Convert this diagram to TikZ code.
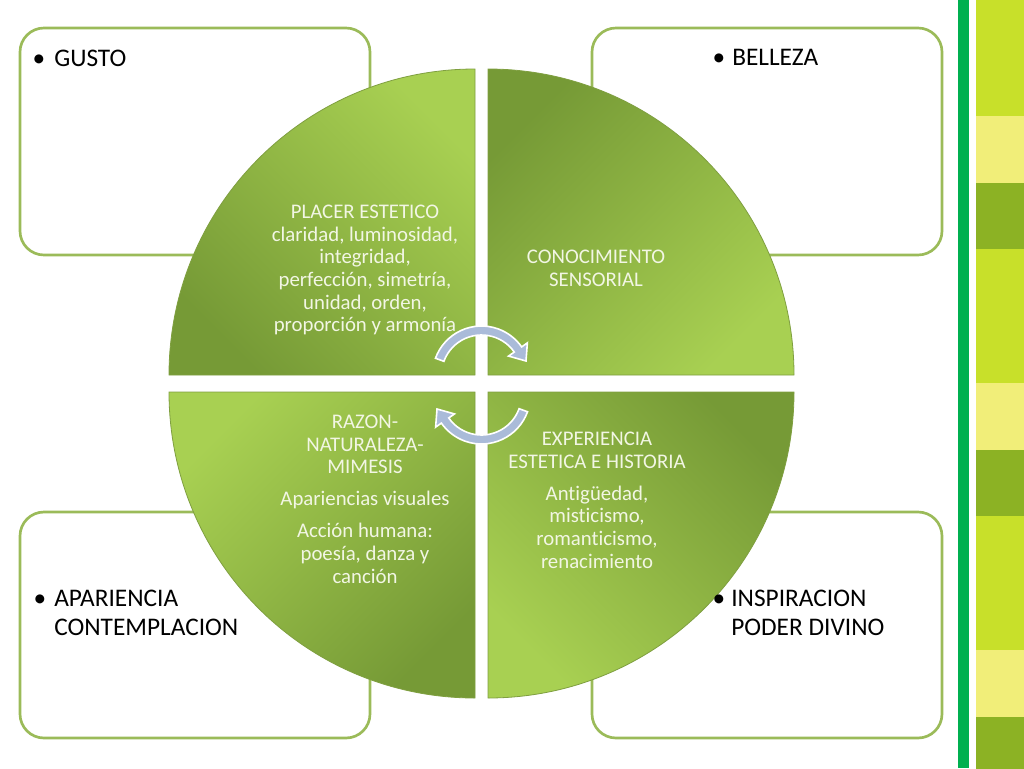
\documentclass[tikz,border=0pt]{standalone}
\usepackage{fontspec}
\setmainfont{Carlito}[Ligatures=NoCommon]
\definecolor{boxline}{HTML}{9BBB59}
\definecolor{qlight}{HTML}{A8D052}
\definecolor{qdark}{HTML}{769A36}
\definecolor{qedge}{HTML}{7F9F40}
\definecolor{qtxt}{HTML}{F2F6E4}
\definecolor{cycblue}{HTML}{AABBD9}
\definecolor{barg}{HTML}{00B050}
\definecolor{stripyg}{HTML}{C8E02A}
\definecolor{strippale}{HTML}{F1EE79}
\definecolor{stripolive}{HTML}{8CB224}

\begin{document}
\begin{tikzpicture}[x=0.75pt,y=-0.75pt,
  box/.style={draw=boxline,line width=2pt,fill=white,rounded corners=18pt},
  quad/.style={draw=qedge,line width=0.6pt,top color=qlight,bottom color=qdark},
  qtext/.style={text=qtxt,align=center,inner sep=0pt,font=\fontsize{15.6}{17}\selectfont},
  btext/.style={anchor=base west,align=left,inner sep=0pt,font=\fontsize{19}{21.75}\selectfont},
  bdot/.style={anchor=base,inner sep=0pt,font=\fontsize{19}{21.75}\selectfont},
  cyc/.style={fill=cycblue,draw=white,line width=1.2pt}]
  \useasboundingbox (0,0) rectangle (1024,768);

  % 右侧条纹
  \fill[barg] (958,0) rectangle (969,768);
  \foreach \k in {0,1,2}{
    \fill[stripyg] (976,{-18+267*\k}) rectangle (1024,{116+267*\k});
    \fill[strippale] (976,{116+267*\k}) rectangle (1024,{183+267*\k});
    \fill[stripolive] (976,{183+267*\k}) rectangle (1024,{250+267*\k});
  }

  % 四个圆角框
  \draw[box] (20,28) rectangle (370,255);
  \draw[box] (592,28) rectangle (942,255);
  \draw[box] (20,512) rectangle (370,738);
  \draw[box] (592,512) rectangle (942,738);

  % 四分之一圆
  \draw[quad,shading angle=-45] (475,375) -- ++(-306,0) arc[start angle=180,end angle=270,radius=306] -- cycle;
  \draw[quad,shading angle=-135] (488,375) -- ++(0,-306) arc[start angle=270,end angle=360,radius=306] -- cycle;
  \draw[quad,shading angle=135] (488,392) -- ++(306,0) arc[start angle=0,end angle=90,radius=306] -- cycle;
  \draw[quad,shading angle=45] (475,392) -- ++(0,306) arc[start angle=90,end angle=180,radius=306] -- cycle;

  % 圆内文字
  \node[qtext] (placer) at (365,270) {PLACER ESTETICO\\claridad, luminosidad,\\integridad,\\perfección, simetría,\\unidad, orden,\\proporción y armonía};
  \node[qtext] (conoc) at (596,268) {CONOCIMIENTO\\SENSORIAL};
  \node[qtext] (razon) at (365,499) {RAZON-\\NATURALEZA-\\MIMESIS\\[7pt]Apariencias visuales\\[7pt]Acción humana:\\poesía, danza y\\canción};
  \node[qtext] (exper) at (597,500) {EXPERIENCIA\\ESTETICA E HISTORIA\\[7pt]Antigüedad,\\misticismo,\\romanticismo,\\renacimiento};

  % 框内文字
  \node[bdot] (gustoDot) at (39,66) {•};
  \node[btext] (gusto) at (54,66) {GUSTO};
  \node[bdot] (bellezaDot) at (719,65) {•};
  \node[btext] (belleza) at (732,65) {BELLEZA};
  \node[bdot] (aparDot) at (40,606) {•};
  \node[btext] (apar) at (54,635) {APARIENCIA\\CONTEMPLACION};
  \node[bdot] (inspDot) at (719,606) {•};
  \node[btext] (insp) at (731,635) {INSPIRACION\\PODER DIVINO};

  % 中间的循环箭头
  \foreach \ang in {0,180}{
    \begin{scope}[rotate around={\ang:(481.5,385)},shift={(481.5,375)}]
      \draw[cyc] (200:49) arc[start angle=200,end angle=325,radius=49] -- (325:56) -- (44.5,-14)
        -- (325:33) -- (325:40) arc[start angle=325,end angle=200,radius=40] -- cycle;
    \end{scope}
  }
\end{tikzpicture}
\end{document}
